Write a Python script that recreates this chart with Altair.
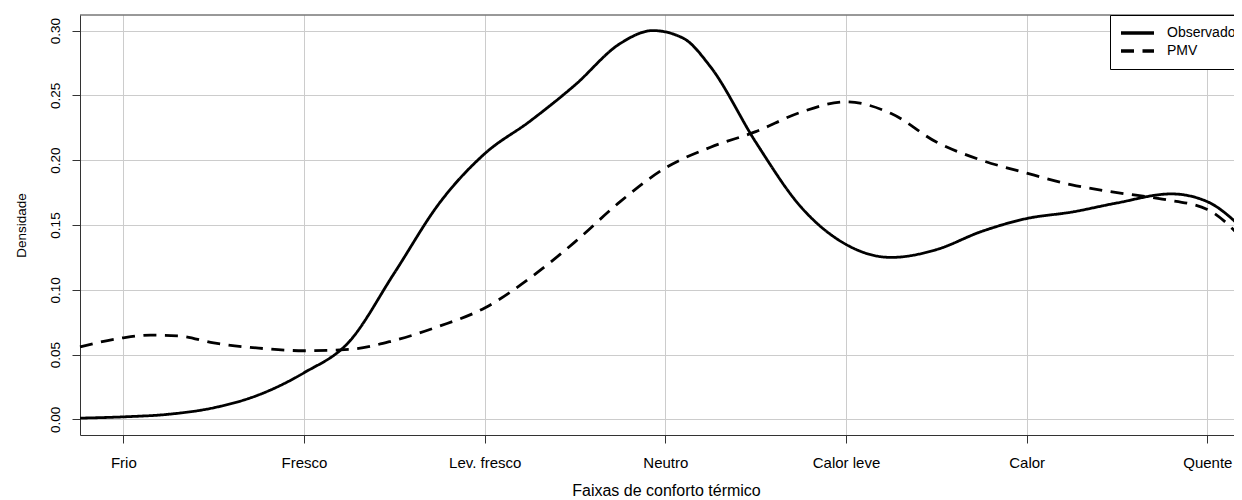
import altair as alt
import pandas as pd

# ---- data ----
categories = ["Frio", "Fresco", "Lev. fresco", "Neutro", "Calor leve", "Calor", "Quente"]
series = ["Observado", "PMV"]

x_obs = [0.76, 1.0, 1.25, 1.5, 1.75, 2.0, 2.25, 2.5, 2.75, 3.0, 3.25, 3.5, 3.75, 3.93,
         4.1, 4.25, 4.5, 4.75, 5.0, 5.25, 5.5, 5.75, 6.0, 6.25, 6.5, 6.8, 7.0, 7.19]
d_obs = [0.001, 0.002, 0.004, 0.009, 0.019, 0.036, 0.060, 0.113, 0.167, 0.205, 0.230, 0.258,
         0.290, 0.300, 0.294, 0.272, 0.214, 0.164, 0.135, 0.125, 0.131, 0.145, 0.155, 0.160,
         0.167, 0.174, 0.168, 0.148]

x_pmv = [0.76, 1.0, 1.15, 1.3, 1.5, 1.75, 2.0, 2.25, 2.5, 2.75, 3.0, 3.25, 3.5, 3.75, 4.0,
         4.25, 4.5, 4.75, 5.0, 5.25, 5.5, 5.75, 6.0, 6.25, 6.5, 6.75, 7.0, 7.19]
d_pmv = [0.056, 0.063, 0.065, 0.0645, 0.059, 0.055, 0.053, 0.054, 0.061, 0.072, 0.086, 0.109,
         0.137, 0.168, 0.194, 0.210, 0.222, 0.237, 0.245, 0.236, 0.214, 0.200, 0.190, 0.181,
         0.175, 0.170, 0.162, 0.140]

y_ticks = [0.00, 0.05, 0.10, 0.15, 0.20, 0.25, 0.30]
x_ticks = list(range(1, len(categories) + 1))

rows = []
for i, (xv, dv) in enumerate(zip(x_obs, d_obs)):
    rows.append({"faixa": xv, "densidade": dv, "serie": series[0], "ordem": i})
for i, (xv, dv) in enumerate(zip(x_pmv, d_pmv)):
    rows.append({"faixa": xv, "densidade": dv, "serie": series[1], "ordem": i})
df = pd.DataFrame(rows)

FONT = "Liberation Sans"
W, H = 1154, 420          # visible view (page is 1242 wide)
FULL_W = 1170             # the plot region continues past the window edge
label_expr = "[" + ",".join('"%s"' % c for c in categories) + "][datum.value - 1]"

lines = alt.Chart(df).mark_line(
    interpolate="monotone", strokeWidth=2.8, color="black"
).encode(
    x=alt.X(
        "faixa:Q",
        scale=alt.Scale(domain=[0.76, 7.236], range=[0, FULL_W], nice=False, zero=False),
        axis=alt.Axis(
            values=x_ticks, labelExpr=label_expr, title="Faixas de conforto térmico",
            titleX=586, titleY=60, titleAlign="center", titleBaseline="alphabetic",
            titleFontSize=16, labelFontSize=15,
            labelBaseline="alphabetic", labelPadding=24, tickSize=8,
        ),
    ),
    y=alt.Y(
        "densidade:Q",
        scale=alt.Scale(domain=[-0.012, 0.312], nice=False, zero=False),
        axis=alt.Axis(
            values=y_ticks, format=".2f", labelAngle=-90, labelAlign="center",
            labelBaseline="alphabetic", labelPadding=12.5, tickSize=8,
            labelFontSize=13.5, titleFontSize=13.5,
            title="Densidade", titleAngle=-90, titleX=-55, titleY=210,
            titleAlign="center", titleBaseline="alphabetic",
        ),
    ),
    strokeDash=alt.StrokeDash(
        "serie:N",
        scale=alt.Scale(domain=series, range=[[1, 0], [13, 8.5]]),
        legend=alt.Legend(
            title=None, orient="none", legendX=1030, legendY=0,
            symbolType="stroke", symbolSize=33 * 33, symbolStrokeWidth=3.6,
            symbolStrokeColor="black", clipHeight=18, labelFontSize=14,
            labelFont=FONT, labelColor="black", labelOffset=11, padding=9,
            strokeColor="black", fillColor="white", rowPadding=0, labelLimit=0,
        ),
    ),
    order=alt.Order("ordem:Q"),
)

top_border = alt.Chart(pd.DataFrame({"k": [0]})).mark_rule(
    color="#333333", strokeWidth=1
).encode(x=alt.value(0), x2=alt.value(FULL_W), y=alt.value(0))

chart = alt.layer(lines, top_border).properties(
    width=W, height=H,
    autosize=alt.AutoSizeParams(type="none"),
    padding={"left": 72, "top": 7, "right": 0, "bottom": 65},
).configure_view(stroke=None).configure_axis(
    labelFont=FONT, titleFont=FONT,
    labelColor="black", titleColor="black", titleFontWeight="normal",
    domainColor="#333333", tickColor="#333333", domainWidth=1, tickWidth=1,
    gridColor="#cccccc", gridWidth=1, grid=True,
)

chart.save("out.html", embed_options={"renderer": "svg", "actions": False})
